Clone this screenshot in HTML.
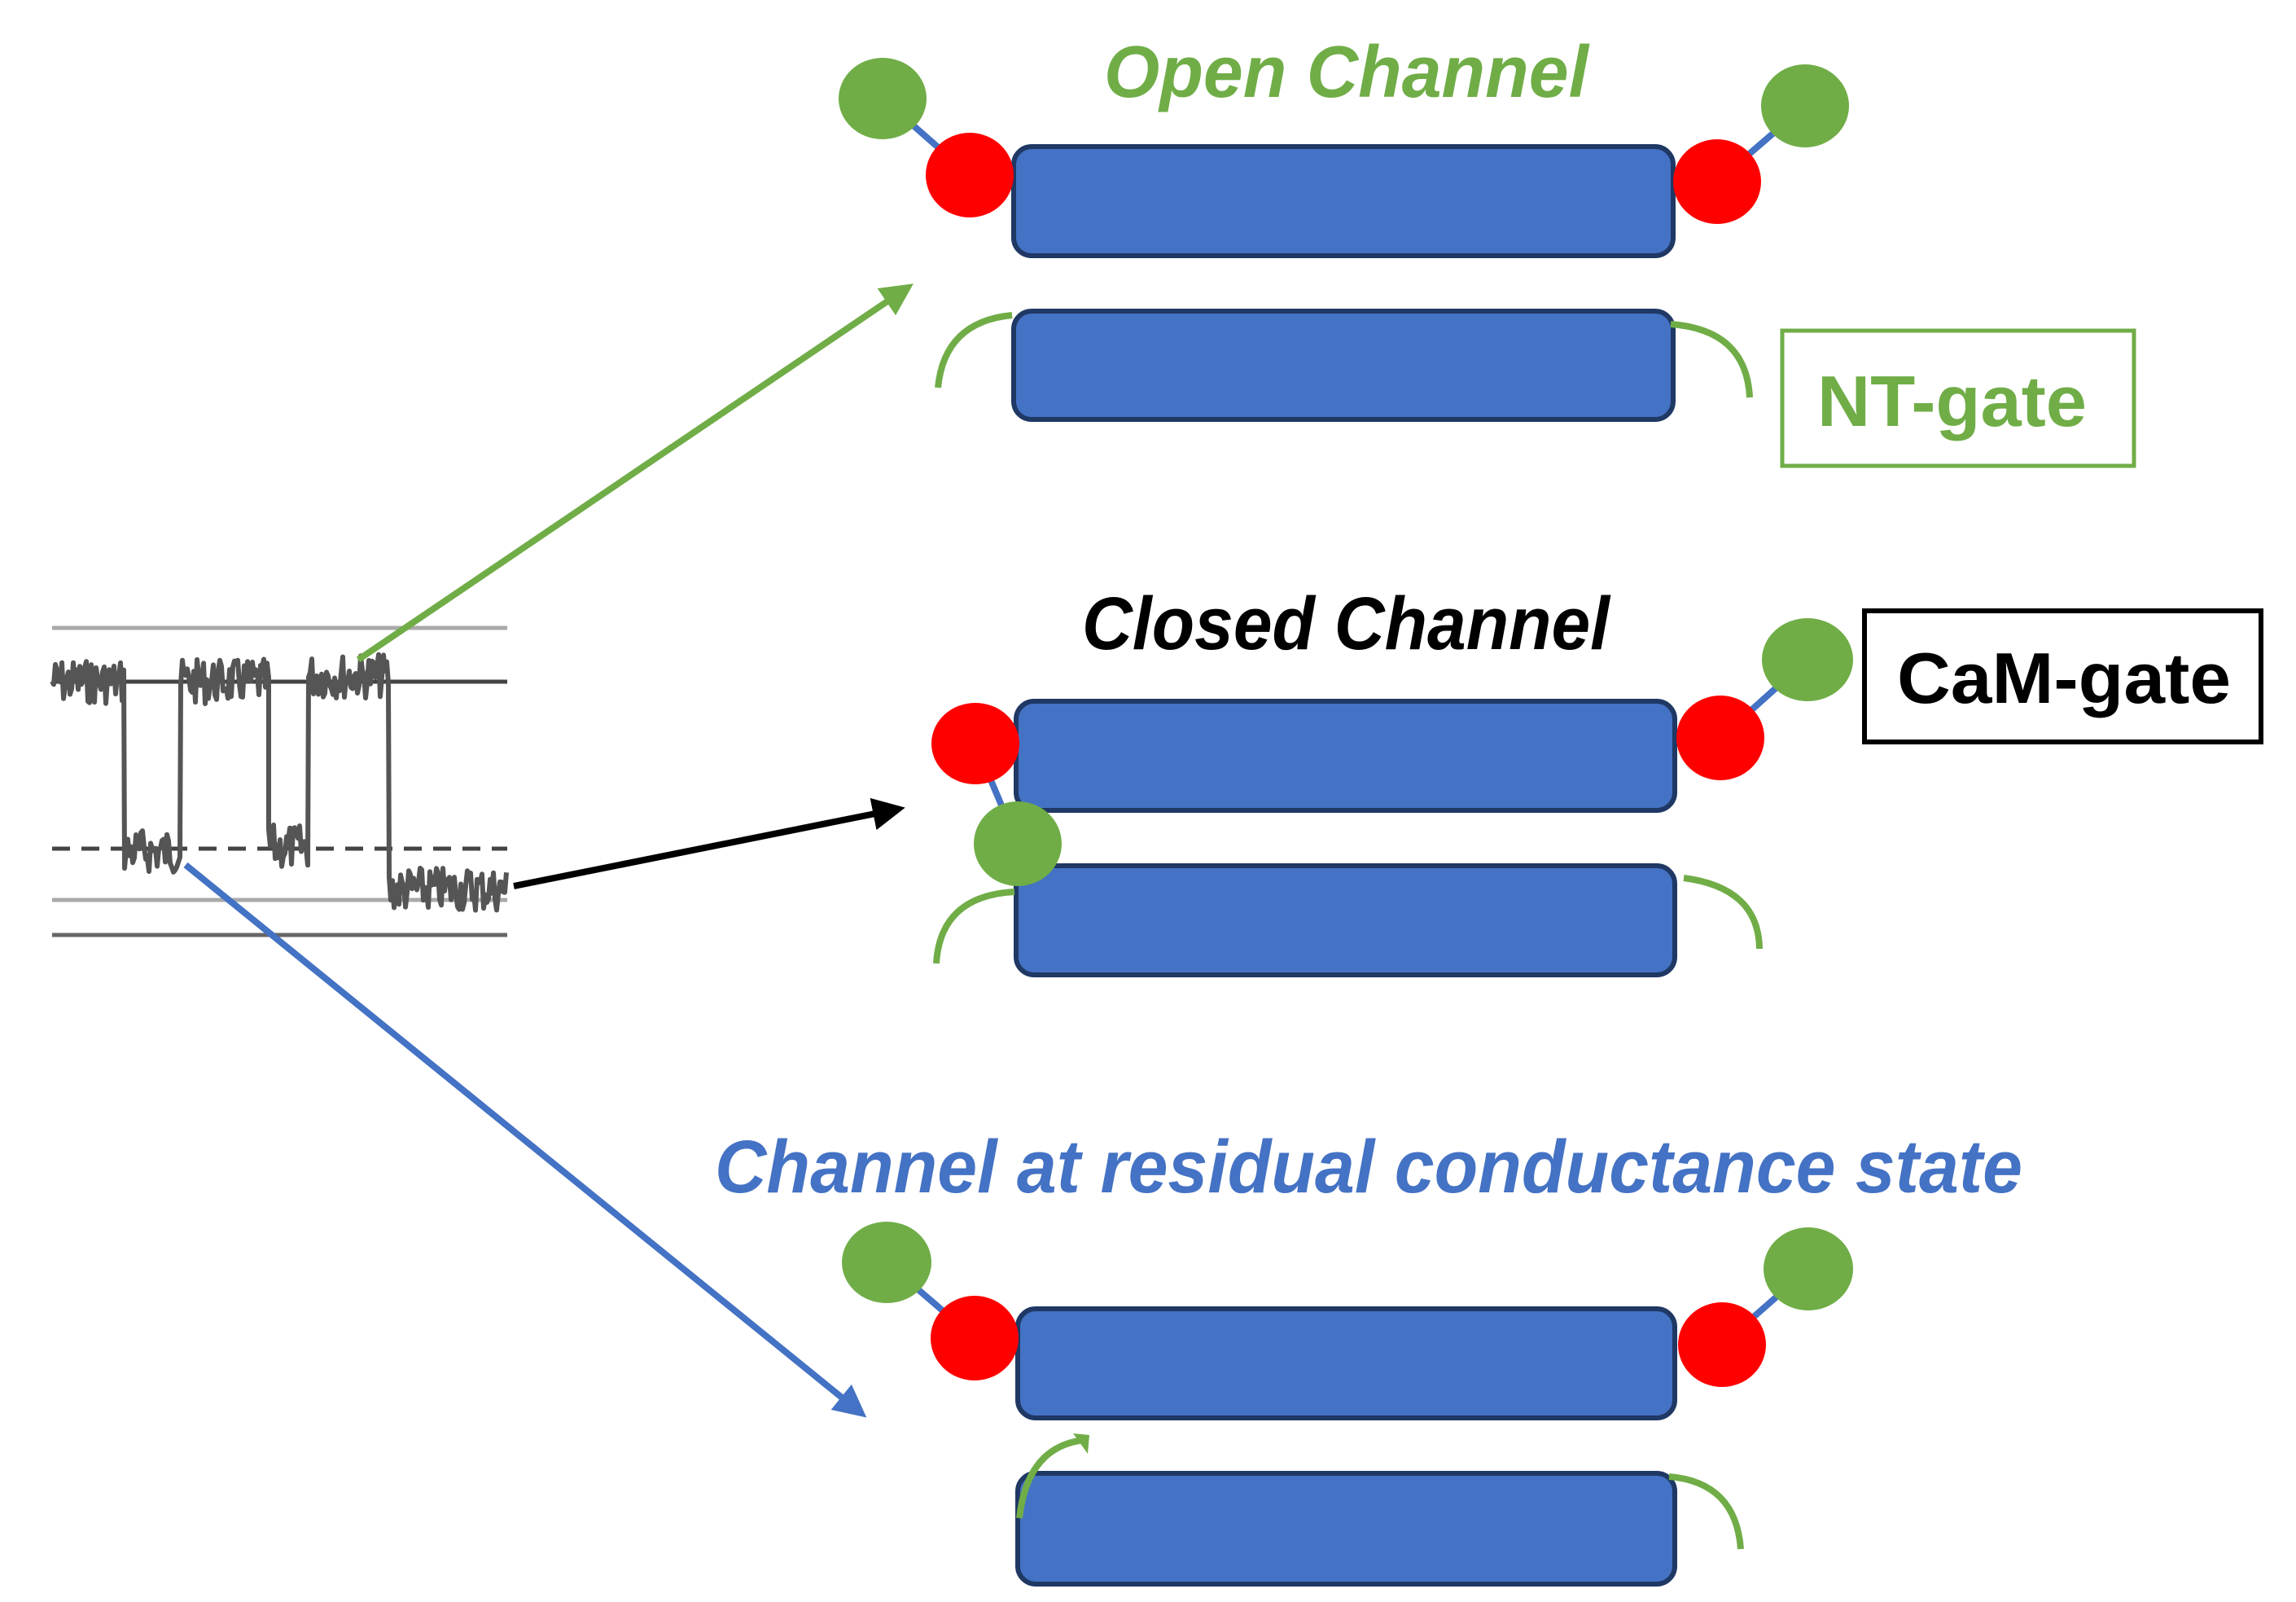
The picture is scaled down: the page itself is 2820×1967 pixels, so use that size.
<!DOCTYPE html>
<html><head><meta charset="utf-8"><style>
html,body{margin:0;padding:0;background:#fff}
svg{display:block}
text{font-family:"Liberation Sans",sans-serif;font-weight:bold;font-style:italic}
</style></head><body>
<svg id="s" width="2820" height="1967" viewBox="0 0 2820 1967" xmlns="http://www.w3.org/2000/svg">
<defs>
<marker id="ag" markerWidth="5" markerHeight="5" refX="3.5" refY="2.5" orient="auto" markerUnits="strokeWidth"><path d="M0,0 L5,2.5 L0,5 Z" fill="#70ad47"/></marker>
<marker id="ak" markerWidth="5" markerHeight="5" refX="3.5" refY="2.5" orient="auto" markerUnits="strokeWidth"><path d="M0,0 L5,2.5 L0,5 Z" fill="#000"/></marker>
<marker id="ab" markerWidth="5" markerHeight="5" refX="3.5" refY="2.5" orient="auto" markerUnits="strokeWidth"><path d="M0,0 L5,2.5 L0,5 Z" fill="#4472c4"/></marker>
</defs>

<g stroke-width="5">
<line x1="64" y1="771" x2="623" y2="771" stroke="#aaa"/>
<line x1="64" y1="837" x2="623" y2="837" stroke="#444"/>
<line x1="64" y1="1042" x2="623" y2="1042" stroke="#444" stroke-dasharray="22,14"/>
<line x1="64" y1="1105" x2="623" y2="1105" stroke="#aaa"/>
<line x1="64" y1="1148" x2="623" y2="1148" stroke="#666"/>
</g>
<path id="tr" fill="none" stroke="#555" stroke-width="6" stroke-linejoin="round"/>

<line x1="440" y1="810" x2="1112" y2="355" stroke="#70ad47" stroke-width="8" marker-end="url(#ag)"/>
<line x1="631" y1="1088" x2="1100" y2="994" stroke="#000" stroke-width="8" marker-end="url(#ak)"/>
<line x1="228" y1="1062" x2="1055" y2="1733" stroke="#4472c4" stroke-width="8" marker-end="url(#ab)"/>

<g stroke="#4472c4" stroke-width="8">
<line x1="1084" y1="121" x2="1191" y2="215"/>
<line x1="2217" y1="130" x2="2109" y2="223"/>
<line x1="1198" y1="913" x2="1250" y2="1036"/>
<line x1="2220" y1="810" x2="2113" y2="906"/>
<line x1="1089" y1="1550" x2="1197" y2="1643"/>
<line x1="2221" y1="1558" x2="2115" y2="1651"/>
</g>

<g fill="#4472c4" stroke="#1f3864" stroke-width="6">
<rect x="1245" y="180" width="810" height="134" rx="22"/>
<rect x="1245" y="382" width="810" height="133" rx="22"/>
<rect x="1248" y="861" width="809" height="134" rx="22"/>
<rect x="1248" y="1063" width="809" height="134" rx="22"/>
<rect x="1250" y="1607" width="807" height="134" rx="22"/>
<rect x="1250" y="1809" width="807" height="136" rx="22"/>
</g>

<g fill="none" stroke="#70ad47" stroke-width="8">
<path d="M1152,476 Q1160,395 1243,387"/>
<path d="M2052,398 Q2145,405 2149,488"/>
<path d="M1150,1183 Q1155,1100 1246,1095"/>
<path d="M2068,1078 Q2160,1090 2161,1165"/>
<path d="M1252,1864 Q1262,1775 1333,1768"/>
<path d="M2050,1813 Q2132,1820 2138,1902"/>
</g>
<path d="M1318,1760 L1338,1762 L1336,1785 Z" fill="#70ad47"/>

<g fill="#ff0000">
<ellipse cx="1191" cy="215" rx="54" ry="52"/>
<ellipse cx="2109" cy="223" rx="54" ry="52"/>
<ellipse cx="1198" cy="913" rx="54" ry="50"/>
<ellipse cx="2113" cy="906" rx="54" ry="52"/>
<ellipse cx="1197" cy="1643" rx="54" ry="52"/>
<ellipse cx="2115" cy="1651" rx="54" ry="52"/>
</g>
<g fill="#70ad47">
<ellipse cx="1084" cy="121" rx="54" ry="50"/>
<ellipse cx="2217" cy="130" rx="54" ry="51"/>
<ellipse cx="2220" cy="810" rx="56" ry="51"/>
<ellipse cx="1250" cy="1036" rx="54" ry="52"/>
<ellipse cx="1089" cy="1550" rx="55" ry="50"/>
<ellipse cx="2221" cy="1558" rx="55" ry="51"/>
</g>

<text x="1356" y="119" font-size="90" fill="#70ad47" textLength="595" lengthAdjust="spacingAndGlyphs">Open Channel</text>
<text x="1329" y="797" font-size="92" fill="#000" textLength="648" lengthAdjust="spacingAndGlyphs">Closed Channel</text>
<text x="878" y="1464" font-size="92" fill="#4472c4" textLength="1606" lengthAdjust="spacingAndGlyphs">Channel at residual conductance state</text>

<rect x="2189" y="406" width="432" height="166" fill="#fff" stroke="#70ad47" stroke-width="5"/>
<text x="2232" y="523" font-size="88" fill="#70ad47" textLength="331" lengthAdjust="spacingAndGlyphs" style="font-style:normal">NT-gate</text>
<rect x="2290" y="750" width="487" height="161" fill="#fff" stroke="#000" stroke-width="6"/>
<text x="2330" y="863" font-size="88" fill="#000" textLength="410" lengthAdjust="spacingAndGlyphs" style="font-style:normal">CaM-gate</text>
</svg>
<script>
(function(){
var seed=7;function r(){seed=(seed*9301+49297)%233280;return seed/233280;}
var segs=[[64,153,837],[153,222,1045],[222,330,837],[330,379,1040],[379,478,830],[478,623,1092]];
var d="";
segs.forEach(function(s,i){
 for(var x=s[0];x<=s[1];x+=2){
  var y=s[2]+(r()-0.5)*55;
  d+=(d?"L":"M")+x+","+y.toFixed(1);
 }
});
document.getElementById("tr").setAttribute("d",d);
})();
</script>
</body></html>
